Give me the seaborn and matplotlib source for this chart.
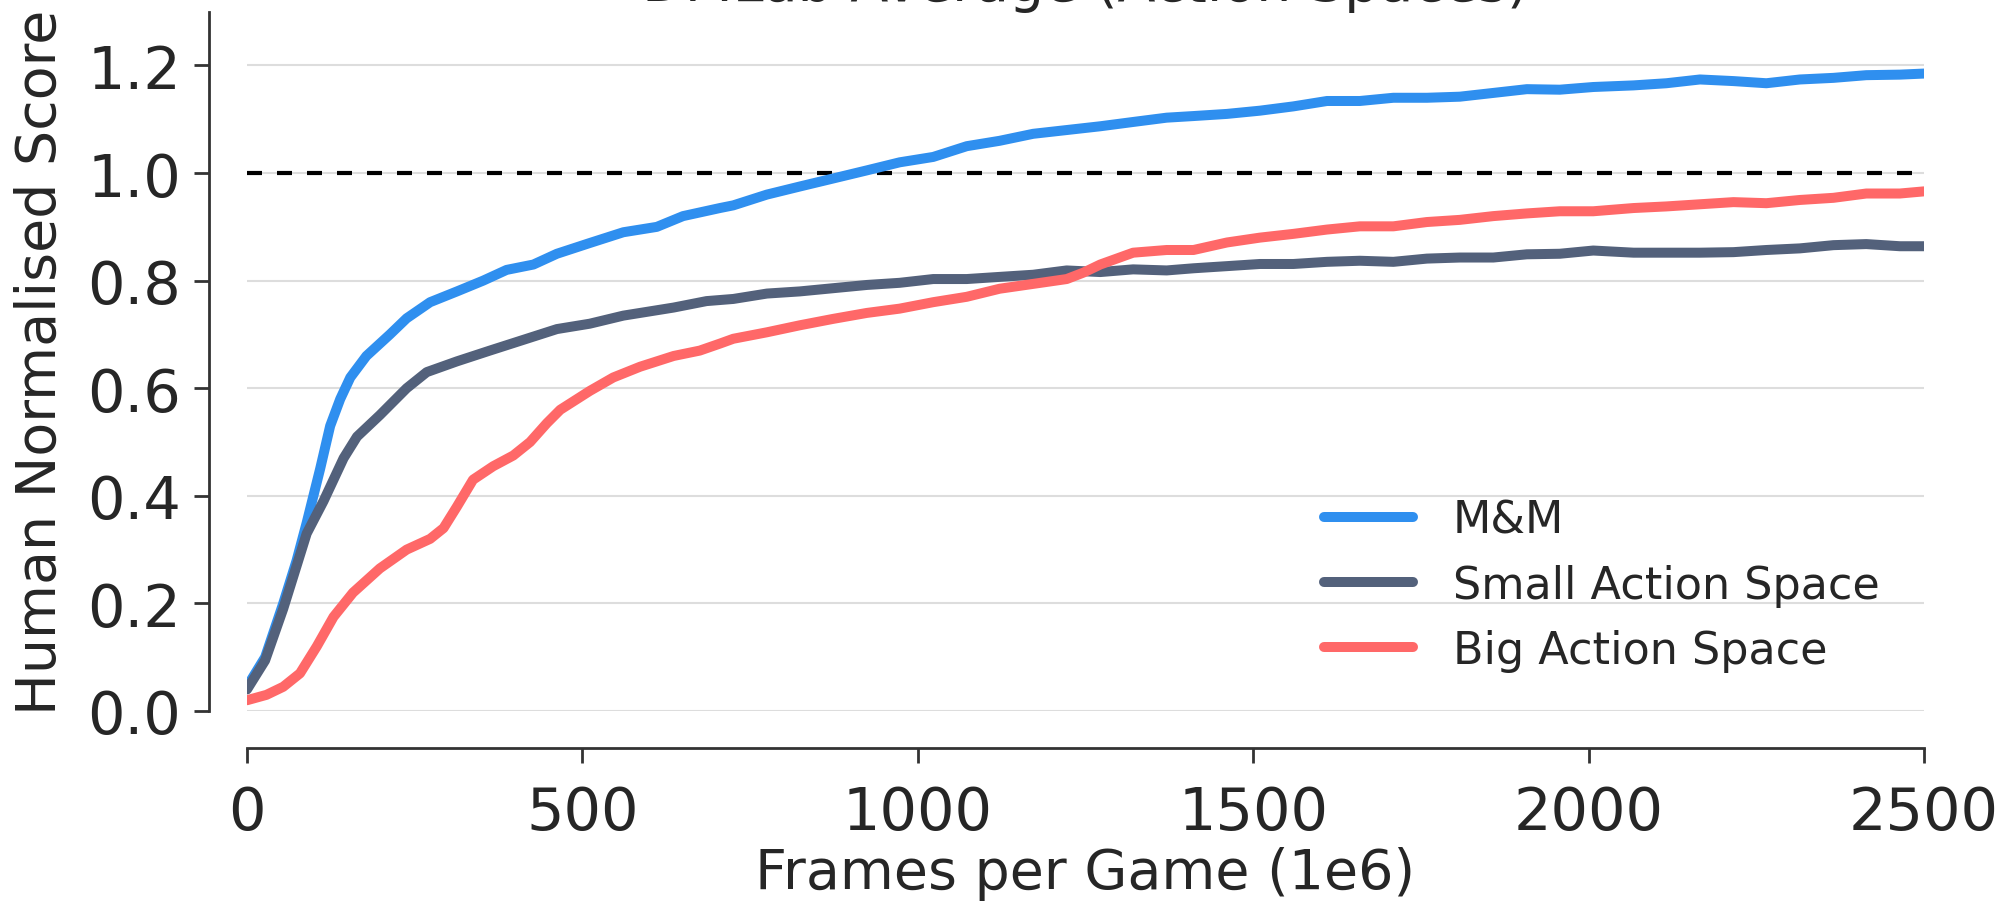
import matplotlib
matplotlib.use("Agg")
import matplotlib.pyplot as plt
import seaborn as sns
import pandas as pd

# ---- data: human-normalised score vs frames per game (millions) ----
mm_frames = [0, 27, 54, 74, 89, 109, 124, 139, 154, 178, 213, 238, 273, 313, 352, 387,
             427, 462, 511, 561, 611, 650, 705, 725, 775, 824, 874, 924, 973, 1023,
             1073, 1122, 1172, 1222, 1272, 1321, 1371, 1411, 1461, 1510, 1560, 1610,
             1659, 1709, 1759, 1808, 1858, 1908, 1957, 2007, 2067, 2116, 2166, 2216,
             2265, 2315, 2365, 2414, 2464, 2500]
mm_score = [0.045, 0.10, 0.20, 0.28, 0.35, 0.45, 0.53, 0.58, 0.62, 0.66, 0.70, 0.73,
            0.76, 0.78, 0.80, 0.82, 0.83, 0.85, 0.87, 0.89, 0.90, 0.92, 0.935, 0.94,
            0.96, 0.975, 0.99, 1.005, 1.02, 1.03, 1.05, 1.06, 1.073, 1.08, 1.087,
            1.095, 1.103, 1.106, 1.11, 1.116, 1.124, 1.134, 1.134, 1.14, 1.14, 1.142,
            1.149, 1.156, 1.155, 1.16, 1.163, 1.167, 1.174, 1.171, 1.167, 1.174,
            1.177, 1.182, 1.183, 1.185]

small_frames = [0, 27, 54, 74, 89, 114, 144, 164, 198, 238, 268, 313, 362, 412, 462,
                511, 561, 636, 685, 725, 775, 824, 874, 924, 973, 1023, 1073, 1122,
                1172, 1222, 1272, 1321, 1371, 1411, 1461, 1510, 1560, 1610, 1659, 1709,
                1759, 1808, 1858, 1908, 1957, 2007, 2067, 2116, 2166, 2216, 2265, 2315,
                2365, 2414, 2464, 2500]
small_score = [0.04, 0.094, 0.19, 0.27, 0.33, 0.39, 0.47, 0.51, 0.55, 0.60, 0.63, 0.65,
               0.67, 0.69, 0.71, 0.72, 0.735, 0.75, 0.762, 0.766, 0.776, 0.78, 0.786,
               0.792, 0.796, 0.803, 0.803, 0.807, 0.811, 0.819, 0.816, 0.821, 0.819,
               0.823, 0.827, 0.831, 0.831, 0.835, 0.837, 0.835, 0.841, 0.843, 0.843,
               0.849, 0.85, 0.856, 0.852, 0.852, 0.852, 0.853, 0.857, 0.86, 0.866,
               0.868, 0.864, 0.864]

big_frames = [0, 29, 54, 79, 104, 129, 158, 198, 238, 273, 293, 313, 337, 367, 397,
              422, 447, 467, 511, 546, 586, 636, 675, 705, 725, 775, 824, 874, 924,
              973, 1023, 1073, 1122, 1172, 1222, 1247, 1272, 1321, 1371, 1411, 1461,
              1510, 1560, 1610, 1659, 1709, 1759, 1808, 1858, 1908, 1957, 2007, 2067,
              2116, 2166, 2216, 2265, 2315, 2365, 2414, 2464, 2500]
big_score = [0.02, 0.03, 0.045, 0.07, 0.12, 0.175, 0.22, 0.265, 0.30, 0.32, 0.34, 0.38,
             0.43, 0.455, 0.475, 0.50, 0.535, 0.56, 0.595, 0.62, 0.64, 0.66, 0.67,
             0.683, 0.692, 0.704, 0.717, 0.729, 0.74, 0.748, 0.76, 0.77, 0.785, 0.794,
             0.803, 0.815, 0.83, 0.852, 0.857, 0.857, 0.871, 0.88, 0.887, 0.895, 0.901,
             0.901, 0.909, 0.913, 0.92, 0.925, 0.929, 0.929, 0.935, 0.938, 0.942,
             0.946, 0.944, 0.95, 0.954, 0.962, 0.962, 0.966]

series_names = ["M&M", "Small Action Space", "Big Action Space"]
series_colors = ["#2F8FEF", "#53617B", "#FF6868"]
x_ticks = [0, 500, 1000, 1500, 2000, 2500]
y_ticks = [0.0, 0.2, 0.4, 0.6, 0.8, 1.0, 1.2]
human_level = 1.0

df = pd.concat([
    pd.DataFrame({"frames": mm_frames, "score": mm_score, "agent": series_names[0]}),
    pd.DataFrame({"frames": small_frames, "score": small_score, "agent": series_names[1]}),
    pd.DataFrame({"frames": big_frames, "score": big_score, "agent": series_names[2]}),
], ignore_index=True)

sns.set_style("ticks")
plt.rcParams["font.family"] = ["DejaVu Sans"]
text_color = "#262626"

fig = plt.figure(figsize=(20.05, 9.03), dpi=100)
ax = fig.add_axes([0.12319, 0.21152, 0.83641, 0.77442])

ax.yaxis.grid(True, color="#dddddd", lw=1.5, zorder=0)
ax.set_axisbelow(True)

ax.axhline(human_level, color="black", lw=3, ls=(0, (3.6, 3.6)), zorder=1.5)

sns.lineplot(data=df, x="frames", y="score", hue="agent", hue_order=series_names,
             palette=series_colors, estimator=None, sort=False, lw=7.2, ax=ax,
             zorder=3)
for line in ax.get_lines():
    line.set_solid_capstyle("round")

ax.set_xlim(0, 2500)
ax.set_ylim(0, 1.3)
ax.set_xticks(x_ticks)
ax.set_yticks(y_ticks)
ax.set_yticklabels([f"{v:.1f}" for v in y_ticks])

sns.despine(ax=ax, offset=27)
for side in ("left", "bottom"):
    ax.spines[side].set_linewidth(2)
    ax.spines[side].set_color("#333333")
ax.tick_params(axis="both", direction="out", length=10.5, width=2, color="#333333",
               labelsize=42.5, labelcolor=text_color)
ax.tick_params(axis="x", pad=15)
ax.tick_params(axis="y", pad=10)

ax.set_xlabel("Frames per Game (1e6)", fontsize=40, color=text_color, labelpad=4)
ax.set_ylabel("Human Normalised Score", fontsize=40, color=text_color, labelpad=14)
ax.set_title("DMLab Average (Action Spaces)", fontsize=40, color=text_color, pad=8)

leg = ax.legend(loc="center left", bbox_to_anchor=(0.642, 0.180), frameon=False,
                fontsize=32, handlelength=2.0, handletextpad=0.9, labelspacing=0.5,
                borderpad=0, borderaxespad=0)
for h in leg.get_lines():
    h.set_linewidth(7.2)
    h.set_solid_capstyle("round")
for t in leg.get_texts():
    t.set_color(text_color)

fig.savefig("out.png", dpi=100)
